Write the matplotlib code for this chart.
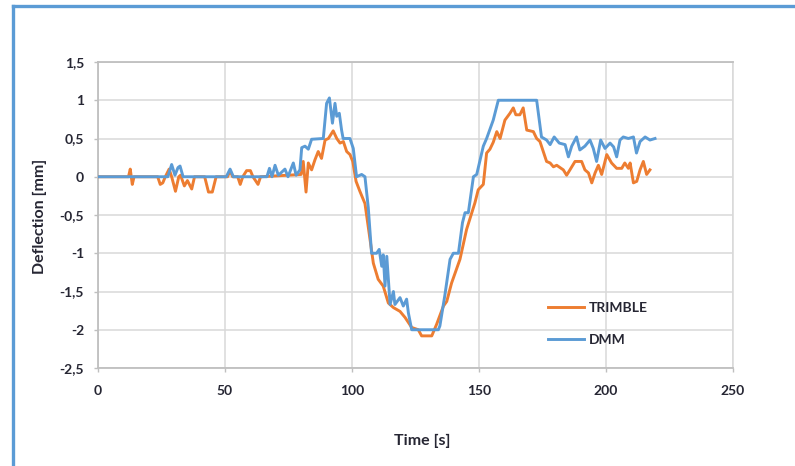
import matplotlib
matplotlib.use("Agg")
import matplotlib.pyplot as plt
from matplotlib.lines import Line2D
from matplotlib.ticker import FuncFormatter

# TRIMBLE series (time [s], deflection [mm])
trimble_t = [0, 12, 12.7, 13.5, 14.2, 23.5, 24.5, 25.5, 26.5, 28, 29, 30.5, 31.8, 32.5,
             34, 35.2, 36.9, 38, 42, 43.5, 45, 46.5, 51, 52, 53, 55, 56, 57, 58.5, 60,
             61, 63, 64, 80, 80.8, 81.9, 82.8, 84.1, 85.4, 86.7, 88, 89.4, 90.7, 92.6,
             94, 95.3, 96.6, 97.9, 99.2, 100.3, 101.6, 103.1, 105.1, 107.1, 108.4,
             110.3, 112.3, 114.3, 116.3, 118.9, 120.9, 123.5, 126.1, 127.4, 131.4,
             133.3, 136, 137.3, 139.2, 142.5, 145.1, 148.4, 149.7, 151.7, 153, 154.3,
             155.6, 157, 158.3, 160.2, 162.2, 163.5, 164.5, 166.1, 167.4, 168.8, 171.4,
             172.7, 174, 176.6, 178, 179.3, 180.6, 183.2, 184.5, 185.8, 187.8, 190.4,
             191.7, 193.1, 194.4, 195.7, 197, 198.3, 200.3, 202.2, 204.2, 206.2, 207.4,
             208.8, 209.5, 210.8, 212.1, 213.4, 214.7, 216, 217.3]
trimble_v = [0, 0, 0.1, -0.1, 0, 0, -0.1, -0.08, 0, 0.1, 0, -0.19, 0, 0.02,
             -0.12, -0.05, -0.16, 0, 0, -0.2, -0.2, 0, 0, 0.08, 0, 0, -0.1, 0, 0.08, 0.08,
             0, -0.1, 0, 0.03, 0.2, -0.2, 0.18, 0.09, 0.22, 0.33, 0.24, 0.48, 0.5, 0.6,
             0.5, 0.44, 0.46, 0.33, 0.29, 0.2, -0.06, -0.19, -0.35, -0.82, -1.13,
             -1.34, -1.43, -1.65, -1.71, -1.76, -1.84, -1.97, -2.0, -2.08, -2.08,
             -1.93, -1.69, -1.63, -1.39, -1.08, -0.69, -0.34, -0.17, -0.1, 0.31, 0.36,
             0.45, 0.59, 0.5, 0.74, 0.83, 0.9, 0.81, 0.81, 0.9, 0.61, 0.59,
             0.5, 0.46, 0.2, 0.18, 0.13, 0.15, 0.09, 0.02, 0.09, 0.2, 0.2,
             0.09, 0.05, -0.08, 0.05, 0.15, 0.03, 0.29, 0.18, 0.11, 0.11, 0.18,
             0.11, 0.18, -0.08, -0.06, 0.09, 0.2, 0.03, 0.09]

# DMM series
dmm_t = [0, 27.5, 29, 30.3, 31.5, 32.3, 33.5, 50.5, 52, 53.3, 66.5, 67.5, 68.5, 69.7,
         71, 72, 73.6, 74.8, 76.9, 78, 79.5, 80.2, 81.5, 82.8, 84.1, 88.7, 90, 91.1,
         92.3, 93.3, 94, 95, 95.9, 96.5, 99.2, 100.5, 101.8, 103.8, 105.1, 106.4,
         107.7, 109.7, 110.7, 111.7, 112.3, 113, 113.7, 115, 116.3, 116.9, 118.9,
         120.2, 121.5, 122.2, 123.5, 134, 134.6, 136.6, 138.6, 139.9, 141.9, 143.5,
         144.5, 145.8, 147.8, 149.1, 151.7, 153, 155.6, 157.6, 172.7, 174.6, 176.6,
         178, 179.6, 181.6, 183.9, 185.2, 186.5, 188.4, 189.7, 191.7, 193.7, 195,
         196.3, 197.9, 199.6, 201.6, 203, 204.2, 205.5, 206.8, 208.8, 210.8, 212,
         213.4, 215.4, 217.3, 219.3]
dmm_v = [0, 0, 0.16, 0.02, 0.12, 0.14, 0, 0, 0.1, 0, 0, 0.11, 0, 0.15,
         0.02, 0.05, 0.1, 0, 0.18, 0.02, 0.09, 0.38, 0.4, 0.36, 0.49, 0.5, 0.96, 1.03,
         0.7, 0.96, 0.79, 0.83, 0.61, 0.5, 0.5, 0.37, 0.0, 0.03, 0.0, -0.4,
         -1.0, -1.0, -0.95, -1.17, -1.02, -1.43, -1.04, -1.67, -1.5, -1.67, -1.58,
         -1.69, -1.6, -1.78, -2.0, -2.0, -1.95, -1.54, -1.08, -1.0, -1.0, -0.6,
         -0.47, -0.47, 0.0, 0.03, 0.4, 0.5, 0.74, 1.0, 1.0, 0.52, 0.48,
         0.42, 0.52, 0.44, 0.42, 0.26, 0.4, 0.52, 0.35, 0.4, 0.48, 0.37,
         0.2, 0.48, 0.37, 0.44, 0.39, 0.26, 0.48, 0.52, 0.5, 0.52, 0.31,
         0.46, 0.52, 0.48, 0.5]

x_ticks = [0, 50, 100, 150, 200, 250]
y_ticks = [-2.5, -2, -1.5, -1, -0.5, 0, 0.5, 1, 1.5]

orange = "#ED7D31"
blue = "#5B9BD5"
text_col = "#262633"

plt.rcParams["font.family"] = ["Lato", "DejaVu Sans"]

fig = plt.figure(figsize=(7.95, 4.66), dpi=100, facecolor="white")
ax = fig.add_axes([98 / 795, 1 - 368 / 466, 635 / 795, 306 / 466])

ax.plot(trimble_t, trimble_v, color=orange, lw=2.1, label="TRIMBLE", zorder=3)
ax.plot(dmm_t, dmm_v, color=blue, lw=2.1, label="DMM", zorder=4)

ax.set_xlim(0, 250)
ax.set_ylim(-2.5, 1.5)
ax.set_xticks(x_ticks)
ax.set_yticks(y_ticks)

# comma decimals like the original
fmt = FuncFormatter(lambda v, p: ("%g" % v).replace(".", ","))
ax.yaxis.set_major_formatter(fmt)
ax.xaxis.set_major_formatter(fmt)

ax.grid(True, color="#d9d9d9", lw=1.1, zorder=0)
ax.set_axisbelow(True)
for side in ["left", "bottom", "top"]:
    ax.spines[side].set_color("#bfbfbf")
    ax.spines[side].set_linewidth(1.3)
ax.spines["right"].set_color("#d9d9d9")
ax.spines["right"].set_linewidth(1.1)

ax.tick_params(axis="both", length=3, width=1, color="#bfbfbf",
               labelsize=10, labelcolor=text_col)
ax.tick_params(axis="x", pad=9)
ax.tick_params(axis="y", pad=7)
for lbl in ax.get_xticklabels() + ax.get_yticklabels():
    lbl.set_fontweight("bold")

fig.text(422 / 795, 1 - 441 / 466, "Time [s]", ha="center", va="center",
         fontsize=11.5, fontweight="bold", color=text_col)
fig.text(40 / 795, 1 - 216 / 466, "Deflection [mm]", ha="center", va="center",
         rotation=90, fontsize=11.5, fontweight="bold", color=text_col)

leg = ax.legend(loc="upper left", bbox_to_anchor=(535 / 795, 1 - 289 / 466),
                bbox_transform=fig.transFigure, frameon=False, fontsize=10,
                handlelength=2.6, handletextpad=0.35, labelspacing=1.45)
for txt in leg.get_texts():
    txt.set_fontweight("bold")
    txt.set_color(text_col)

# blue chart frame (only left and top edges are visible in the crop)
fig.add_artist(Line2D([13 / 795, 13 / 795], [0, 1 - 6 / 466], color=blue, lw=2.4,
                      transform=fig.transFigure))
fig.add_artist(Line2D([13 / 795, 1], [1 - 6 / 466, 1 - 6 / 466], color=blue, lw=2.4,
                      transform=fig.transFigure))

fig.savefig("out.png", dpi=100, facecolor="white")
